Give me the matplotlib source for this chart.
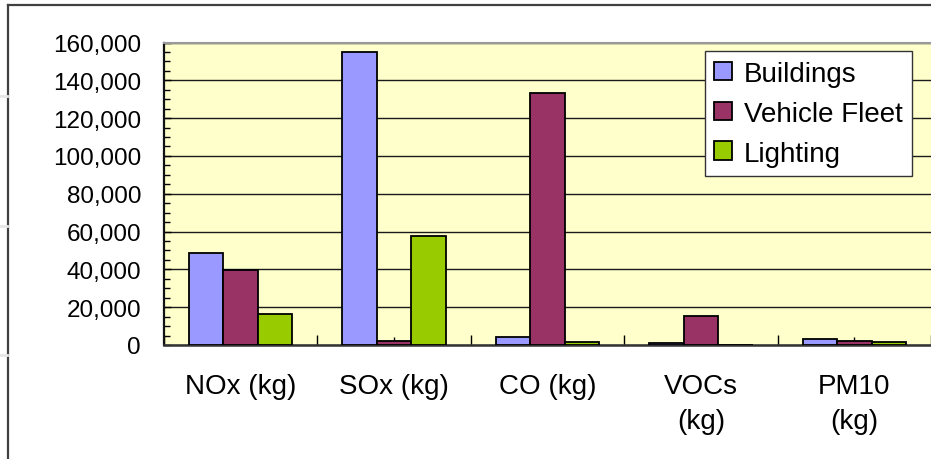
import matplotlib
matplotlib.use("Agg")
import matplotlib.pyplot as plt
from matplotlib.lines import Line2D
from matplotlib.ticker import FuncFormatter, MultipleLocator, FixedLocator
import numpy as np

plt.rcParams['font.family'] = ['Liberation Sans', 'DejaVu Sans']

categories = ["NOx (kg)", "SOx (kg)", "CO (kg)", "VOCs\n(kg)", "PM10\n(kg)"]
series_names = ["Buildings", "Vehicle Fleet", "Lighting"]
buildings = [48400, 154900, 4000, 1000, 3200]
vehicle_fleet = [39800, 2300, 133300, 15300, 2300]
lighting = [16300, 57700, 1400, 0, 1400]
colors = ["#9999FF", "#993366", "#99CC00"]

W, H = 931, 460
fig = plt.figure(figsize=(W / 100, H / 100), dpi=100)
fig.patch.set_facecolor("white")

ax = fig.add_axes([164 / W, 1 - 346 / H, (W - 164) / W, (346 - 43.5) / H])
ax.set_facecolor("#FFFFCC")

x = np.arange(len(categories))
bw = 0.225
for i, (vals, name, c) in enumerate(zip([buildings, vehicle_fleet, lighting], series_names, colors)):
    ax.bar(x + (i - 1) * bw, vals, width=bw, color=c, edgecolor="black", linewidth=1.3,
           label=name, zorder=3)

ax.set_xlim(-0.5, len(categories) - 0.5)
ax.set_ylim(0, 160000)
ax.yaxis.set_major_locator(MultipleLocator(20000))
ax.yaxis.set_minor_locator(MultipleLocator(5000))
ax.yaxis.set_major_formatter(FuncFormatter(lambda v, p: f"{int(v):,}"))
ax.grid(axis="y", which="major", color="#1a1a1a", linewidth=1.0, zorder=1)
ax.tick_params(axis="y", which="major", direction="in", length=5, width=1, labelsize=17.5, pad=16.5)
ax.tick_params(axis="y", which="minor", direction="in", length=4, width=1)

ax.set_xticks(x)
ax.set_xticklabels(categories, fontsize=20, linespacing=1.45)
ax.xaxis.set_minor_locator(FixedLocator(np.arange(-0.5, len(categories), 1.0)))
ax.tick_params(axis="x", which="major", direction="in", length=6, width=1, pad=20)
ax.tick_params(axis="x", which="minor", direction="in", length=7, width=1)

ax.spines["left"].set_color("#111111")
ax.spines["left"].set_linewidth(1.6)
ax.spines["bottom"].set_color("#333333")
ax.spines["bottom"].set_linewidth(1.8)
ax.spines["top"].set_color("#999999")
ax.spines["top"].set_linewidth(1.5)
ax.spines["right"].set_visible(False)

leg = ax.legend(loc="upper right", bbox_to_anchor=(912 / W, 1 - 52 / H),
                bbox_transform=fig.transFigure, borderaxespad=0, fontsize=20,
                fancybox=False, frameon=True, edgecolor="#333333", framealpha=1,
                handlelength=0.65, handleheight=0.65, handletextpad=0.4,
                labelspacing=0.5, borderpad=0.35)
leg.get_frame().set_linewidth(1.0)

# outer chart frame
fig.add_artist(Line2D([8 / W, 1], [1 - 6 / H, 1 - 6 / H], transform=fig.transFigure,
                      color="#404040", linewidth=1.6))
fig.add_artist(Line2D([8 / W, 8 / W], [0, 1 - 6 / H], transform=fig.transFigure,
                      color="#404040", linewidth=1.6))
for yy in [97, 227, 356]:
    fig.add_artist(Line2D([0, 7 / W], [1 - yy / H, 1 - yy / H], transform=fig.transFigure,
                          color="#e6e6e6", linewidth=2))

fig.savefig("out.png", dpi=100, facecolor="white")
